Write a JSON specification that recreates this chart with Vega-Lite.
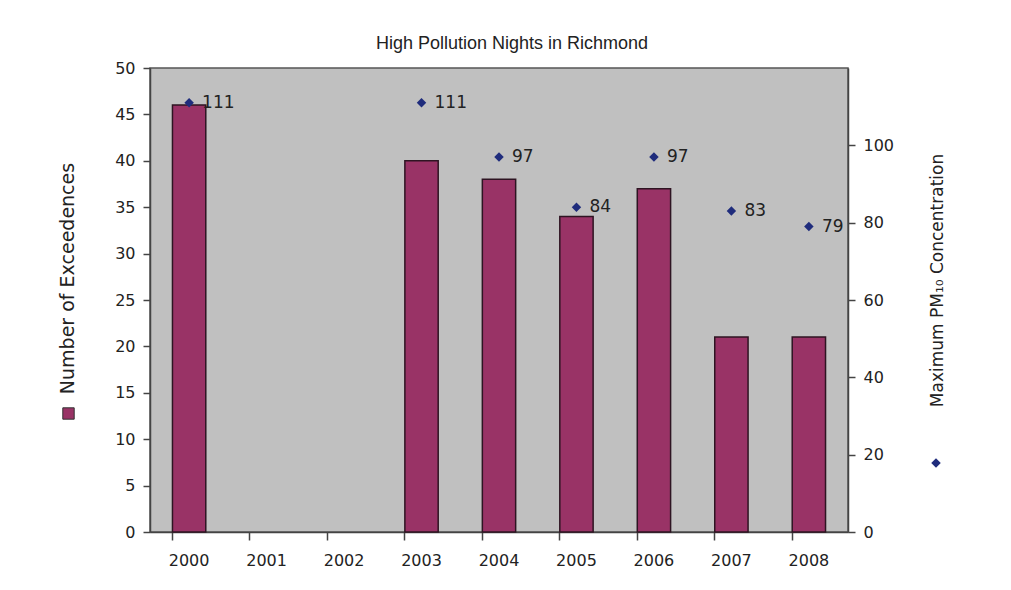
{
  "$schema": "https://vega.github.io/schema/vega-lite/v6.json",
  "width": 698,
  "height": 464,
  "padding": {"left": 58, "top": 35, "right": 5, "bottom": 5},
  "background": "white",
  "title": {
    "text": "High Pollution Nights in Richmond",
    "font": "Liberation Sans",
    "fontSize": 18,
    "fontWeight": "normal",
    "color": "#222222",
    "offset": 7,
    "dx": 13
  },
  "config": {
    "view": {"fill": "#c0c0c0", "stroke": "#555555", "strokeWidth": 1.5},
    "axis": {
      "labelFont": "DejaVu Sans",
      "labelFontSize": 16,
      "labelColor": "#222222",
      "titleFont": "DejaVu Sans",
      "titleFontSize": 17,
      "titleFontWeight": "normal",
      "titleColor": "#222222",
      "domainColor": "#444444",
      "tickColor": "#444444",
      "domainWidth": 1.5,
      "tickWidth": 1.5,
      "grid": false
    }
  },
  "data": {
    "values": [
      {"year": 2000, "exceedences": 46, "pm10": 111},
      {"year": 2001, "exceedences": null, "pm10": null},
      {"year": 2002, "exceedences": null, "pm10": null},
      {"year": 2003, "exceedences": 40, "pm10": 111},
      {"year": 2004, "exceedences": 38, "pm10": 97},
      {"year": 2005, "exceedences": 34, "pm10": 84},
      {"year": 2006, "exceedences": 37, "pm10": 97},
      {"year": 2007, "exceedences": 21, "pm10": 83},
      {"year": 2008, "exceedences": 21, "pm10": 79}
    ]
  },
  "layer": [
    {
      "mark": {"type": "bar", "stroke": "#2e1422", "strokeWidth": 1.5},
      "encoding": {
        "x": {
          "field": "year",
          "type": "ordinal",
          "scale": {"domain": [2000, 2001, 2002, 2003, 2004, 2005, 2006, 2007, 2008], "paddingInner": 0.57, "paddingOuter": 0.29},
          "axis": {"title": null, "labelAngle": 0, "ticks": false, "labelPadding": 20, "domain": true}
        },
        "y": {
          "field": "exceedences",
          "type": "quantitative",
          "scale": {"domain": [0, 50]},
          "axis": {
            "values": [0, 5, 10, 15, 20, 25, 30, 35, 40, 45, 50],
            "title": "Number of Exceedences",
            "titleFontSize": 19,
            "tickSize": 7,
            "labelPadding": 8,
            "titlePadding": 37,
            "titleY": 210
          }
        },
        "fill": {
          "datum": "Number of Exceedences",
          "scale": {"range": ["#993366"]},
          "legend": {
            "orient": "none",
            "legendX": -88,
            "legendY": 339,
            "title": null,
            "labelExpr": "''",
            "symbolType": "square",
            "symbolSize": 130,
            "symbolStrokeColor": "#333333",
            "symbolStrokeWidth": 1
          }
        }
      }
    },
    {
      "mark": {"type": "point", "shape": "diamond", "filled": true, "fill": "#1f2c7c", "size": 90, "opacity": 1},
      "encoding": {
        "x": {
          "field": "year",
          "type": "ordinal",
          "scale": {"domain": [2000, 2001, 2002, 2003, 2004, 2005, 2006, 2007, 2008], "paddingInner": 0.57, "paddingOuter": 0.29},
          "axis": {"orient": "bottom", "title": null, "labels": false, "ticks": true, "tickSize": 8, "bandPosition": 0, "domain": false}
        },
        "y": {
          "field": "pm10",
          "type": "quantitative",
          "scale": {"domain": [0, 120]},
          "axis": {
            "orient": "right",
            "values": [0, 20, 40, 60, 80, 100],
            "title": "Maximum PM₁₀ Concentration",
            "titleAngle": 270,
            "tickSize": 7,
            "labelPadding": 8,
            "titlePadding": 53,
            "titleY": 212
          }
        },
        "shape": {
          "datum": "Maximum PM10 Concentration",
          "scale": {"range": ["diamond"]},
          "legend": {
            "orient": "none",
            "legendX": 781,
            "legendY": 390,
            "title": null,
            "labelExpr": "''",
            "symbolSize": 90,
            "symbolFillColor": "#1f2c7c",
            "symbolStrokeColor": "#1f2c7c",
            "symbolStrokeWidth": 0
          }
        }
      }
    },
    {
      "mark": {"type": "text", "align": "left", "baseline": "middle", "dx": 13, "font": "DejaVu Sans", "fontSize": 17, "color": "#222222"},
      "encoding": {
        "x": {
          "field": "year",
          "type": "ordinal",
          "scale": {"domain": [2000, 2001, 2002, 2003, 2004, 2005, 2006, 2007, 2008], "paddingInner": 0.57, "paddingOuter": 0.29},
          "axis": null
        },
        "y": {
          "field": "pm10",
          "type": "quantitative",
          "scale": {"domain": [0, 120]},
          "axis": null
        },
        "text": {"field": "pm10", "type": "quantitative"}
      }
    }
  ],
  "resolve": {
    "scale": {"y": "independent", "fill": "independent", "shape": "independent"},
    "axis": {"x": "independent", "y": "independent"}
  }
}
